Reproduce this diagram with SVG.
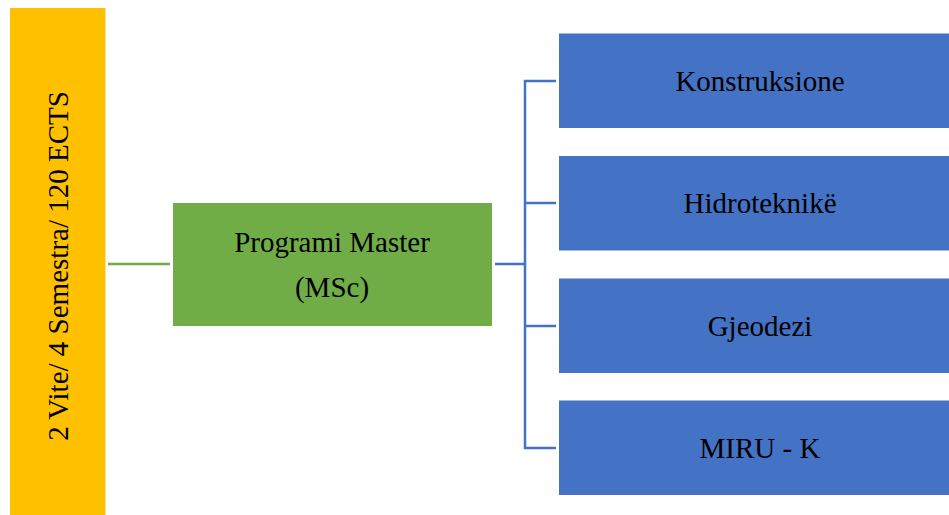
<svg xmlns="http://www.w3.org/2000/svg" width="949" height="515" viewBox="0 0 949 515">
<style>
text{font-family:"Liberation Serif","Times New Roman",serif;font-size:29px;fill:#000;text-anchor:middle}
.blue{fill:#4472C4}
.conn{stroke:#4472C4;stroke-width:2.5;fill:none}
</style>
<rect x="0" y="0" width="949" height="515" fill="#fff"/>
<g id="connectors">
<line x1="108" y1="264" x2="170" y2="264" stroke="#70AD47" stroke-width="2.5"/>
<path class="conn" d="M495 264H525M556 81H525V448H556M525 203H556M525 326H556"/>
</g>
<g id="node-duration">
<rect x="10" y="8" width="95.5" height="507" fill="#FFC000"/>
<text transform="translate(68,266) rotate(-90)" x="0" y="0">2 Vite/ 4 Semestra/ 120 ECTS</text>
</g>
<g id="node-master">
<rect x="173" y="203" width="319" height="123" fill="#70AD47"/>
<text x="332" y="252">Programi Master</text>
<text x="332" y="297">(MSc)</text>
</g>
<g id="node-konstruksione">
<rect class="blue" x="559" y="33.5" width="400" height="94.5"/>
<text x="760" y="91">Konstruksione</text>
</g>
<g id="node-hidroteknike">
<rect class="blue" x="559" y="156" width="400" height="94.5"/>
<text x="760" y="213">Hidroteknikë</text>
</g>
<g id="node-gjeodezi">
<rect class="blue" x="559" y="278.5" width="400" height="94.5"/>
<text x="760" y="336">Gjeodezi</text>
</g>
<g id="node-miru">
<rect class="blue" x="559" y="400.5" width="400" height="94.5"/>
<text x="760" y="458">MIRU - K</text>
</g>
</svg>
